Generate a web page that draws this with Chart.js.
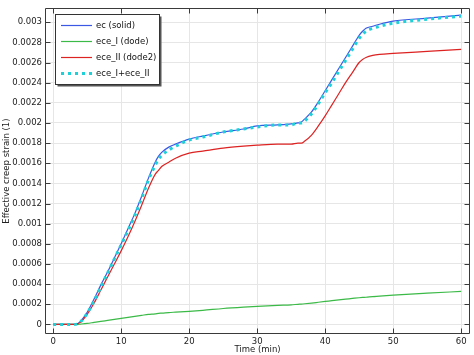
<!DOCTYPE html>
<html>
<head>
<meta charset="utf-8">
<script src="https://cdn.jsdelivr.net/npm/chart.js@4.4.0/dist/chart.umd.min.js"></script>
<style>
html,body{margin:0;padding:0;background:#fff;}
#wrap{width:474px;height:355px;}
</style>
</head>
<body>
<div id="wrap"><canvas id="c" width="474" height="355"></canvas></div>
<script>
const times = [0, 3, 3.5, 4, 5, 6, 7, 8, 9, 10, 11, 12, 13, 14, 15, 15.5, 16, 17, 18, 20, 22, 25, 28, 30, 33, 35, 36, 36.5, 37, 38, 39, 40, 41, 42, 43, 44, 45, 45.5, 46, 47, 48, 50, 55, 60];
const ec = [0, 0, 0.000005, 0.00003, 0.00012, 0.00025, 0.00039, 0.00052, 0.00066, 0.0008, 0.00095, 0.0011, 0.00127, 0.00145, 0.00161, 0.00167, 0.00171, 0.00176, 0.00179, 0.00184, 0.00187, 0.00191, 0.00194, 0.00197, 0.00198, 0.00199, 0.002, 0.00201, 0.00204, 0.00211, 0.00221, 0.00232, 0.00243, 0.00254, 0.00265, 0.00276, 0.00287, 0.00291, 0.00294, 0.00296, 0.00298, 0.00301, 0.00304, 0.00307];
const eceI = [0, 0, 0, 0.000003, 0.00001, 0.00002, 0.00003, 0.00004, 0.00005, 0.00006, 0.00007, 0.00008, 0.00009, 0.0001, 0.000105, 0.00011, 0.000112, 0.000118, 0.000122, 0.00013, 0.00014, 0.000158, 0.000172, 0.00018, 0.00019, 0.000195, 0.0002, 0.000202, 0.000205, 0.000212, 0.00022, 0.000228, 0.000236, 0.000244, 0.000251, 0.000258, 0.000265, 0.000268, 0.00027, 0.000276, 0.00028, 0.00029, 0.00031, 0.000328];
const eceII = [0, 0, 0.000003, 0.00002, 0.0001, 0.00021, 0.00034, 0.00047, 0.0006, 0.00073, 0.00087, 0.00102, 0.00118, 0.00135, 0.00149, 0.00153, 0.00157, 0.00161, 0.00165, 0.0017, 0.00172, 0.00175, 0.00177, 0.00178, 0.00179, 0.00179, 0.0018, 0.0018, 0.00182, 0.00188, 0.00197, 0.00207, 0.00218, 0.00229, 0.0024, 0.0025, 0.0026, 0.00263, 0.00265, 0.00267, 0.00268, 0.00269, 0.00271, 0.00273];
const eceSum = [0, 0, 0.000003, 0.000023, 0.00011, 0.00023, 0.00037, 0.00051, 0.00065, 0.00079, 0.00093, 0.00108, 0.00125, 0.00143, 0.00158, 0.00164, 0.00168, 0.00173, 0.00177, 0.00183, 0.00186, 0.00191, 0.00194, 0.00196, 0.00198, 0.00198, 0.002, 0.002, 0.00202, 0.00209, 0.00219, 0.0023, 0.0024, 0.00251, 0.00262, 0.00273, 0.00284, 0.00288, 0.00291, 0.00294, 0.00296, 0.00299, 0.00303, 0.00306];
const xTicks = [0, 10, 20, 30, 40, 50, 60];
const yTicks = [0, 0.0002, 0.0004, 0.0006, 0.0008, 0.001, 0.0012, 0.0014, 0.0016, 0.0018, 0.002, 0.0022, 0.0024, 0.0026, 0.0028, 0.003];
const seriesNames = ['ec (solid)', 'ece_I (dode)', 'ece_II (dode2)', 'ece_I+ece_II'];

const FONT = 'DejaVu Sans';
const toXY = arr => arr.map((v, i) => ({x: times[i], y: v}));

const framePlugin = {
  id: 'frame',
  afterDatasetsDraw(chart) {
    const {ctx, chartArea: a, scales} = chart;
    ctx.save();
    ctx.strokeStyle = '#3a3a3a';
    ctx.lineWidth = 1;
    ctx.beginPath();
    const L = Math.round(a.left) + 0.5, R = Math.round(a.right) - 0.5;
    const T = Math.round(a.top) + 0.5, B = Math.round(a.bottom) - 0.5;
    ctx.rect(L, T, R - L, B - T);
    const tl = 5;
    xTicks.forEach(v => {
      const px = Math.round(scales.x.getPixelForValue(v)) + 0.5;
      ctx.moveTo(px, B); ctx.lineTo(px, B - tl);
      ctx.moveTo(px, T); ctx.lineTo(px, T + tl);
    });
    yTicks.forEach(v => {
      const py = Math.round(scales.y.getPixelForValue(v)) + 0.5;
      ctx.moveTo(L, py); ctx.lineTo(L + tl, py);
      ctx.moveTo(R, py); ctx.lineTo(R - tl, py);
    });
    ctx.stroke();
    ctx.restore();
  },
  afterDraw(chart) {
    const {ctx} = chart;
    const bx = 55.5, by = 14.5, bw = 104, bh = 70;
    ctx.save();
    ctx.fillStyle = '#555';
    ctx.fillRect(bx + 2, by + 2, bw, bh);
    ctx.fillStyle = '#fff';
    ctx.fillRect(bx, by, bw, bh);
    ctx.strokeStyle = '#333';
    ctx.lineWidth = 1;
    ctx.strokeRect(bx, by, bw, bh);
    ctx.font = '8.5px "' + FONT + '"';
    ctx.textBaseline = 'middle';
    chart.data.datasets.forEach((ds, i) => {
      const y = 25.5 + i * 16;
      ctx.save();
      ctx.strokeStyle = ds.borderColor;
      ctx.lineWidth = ds.borderWidth;
      ctx.setLineDash(ds.borderDash || []);
      ctx.beginPath();
      ctx.moveTo(61, y); ctx.lineTo(92, y);
      ctx.stroke();
      ctx.restore();
      ctx.fillStyle = '#111';
      ctx.fillText(ds.label, 96, y);
    });
    ctx.restore();
  }
};

new Chart(document.getElementById('c'), {
  type: 'line',
  data: {
    datasets: [
      {label: seriesNames[0], data: toXY(ec), borderColor: '#3a58e4', borderWidth: 1.2, order: 3},
      {label: seriesNames[1], data: toXY(eceI), borderColor: '#3cba48', borderWidth: 1.2, order: 2},
      {label: seriesNames[2], data: toXY(eceII), borderColor: '#dd2222', borderWidth: 1.2, order: 1},
      {label: seriesNames[3], data: toXY(eceSum), borderColor: '#1ed0d8', borderWidth: 3, borderDash: [3, 4], borderCapStyle: 'butt', order: 0}
    ]
  },
  options: {
    responsive: false,
    animation: false,
    devicePixelRatio: 1,
    layout: {padding: {top: 5, right: 4, left: 0, bottom: 0}},
    elements: {point: {radius: 0}, line: {cubicInterpolationMode: 'monotone', fill: false}},
    plugins: {legend: {display: false}, tooltip: {enabled: false}},
    scales: {
      x: {
        type: 'linear', min: -1.2, max: 61.3,
        afterBuildTicks: s => { s.ticks = xTicks.map(v => ({value: v})); },
        afterFit: s => { s.height = 21; },
        grid: {color: '#e6e6e6', drawTicks: false},
        border: {display: false},
        ticks: {padding: 3, color: '#222', font: {family: FONT, size: 8.5}, maxRotation: 0},
        title: {display: true, text: 'Time (min)', color: '#222', font: {family: FONT, size: 8.5}, padding: {top: 0, bottom: 0}}
      },
      y: {
        type: 'linear', min: -0.000095, max: 0.00314,
        afterBuildTicks: s => { s.ticks = yTicks.map(v => ({value: v})); },
        afterFit: s => { s.width = 45; },
        grid: {color: '#e6e6e6', drawTicks: false},
        border: {display: false},
        ticks: {padding: 3, color: '#222', font: {family: FONT, size: 8.5},
          callback: v => String(parseFloat(Number(v).toFixed(5)))},
        title: {display: true, text: 'Effective creep strain (1)', color: '#222', font: {family: FONT, size: 8.5}, padding: {top: 2, bottom: 0}}
      }
    }
  },
  plugins: [framePlugin]
});
</script>
</body>
</html>
